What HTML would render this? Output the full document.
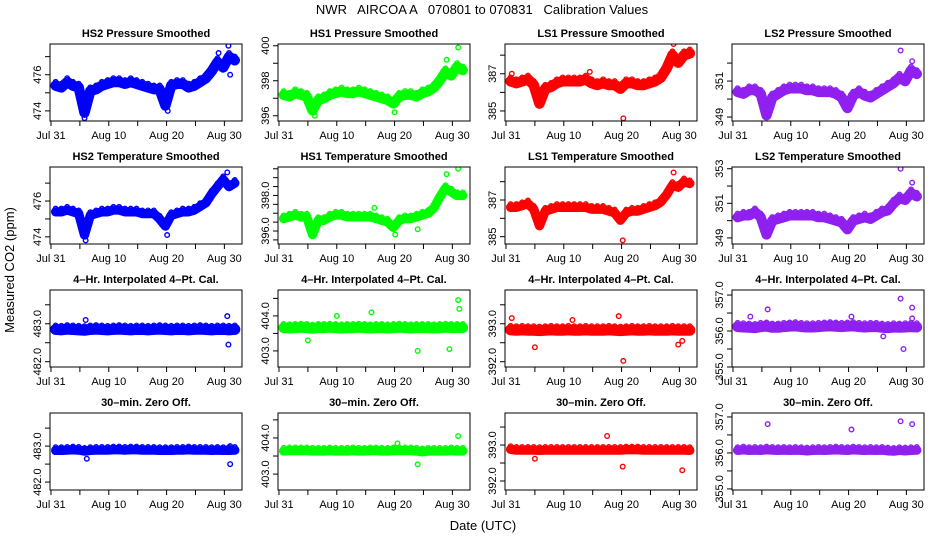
<!DOCTYPE html>
<html><head><meta charset="utf-8"><style>
html,body{margin:0;padding:0;background:#fff}
svg{display:block;font-family:"Liberation Sans",Arial,sans-serif}
</style></head><body>
<svg id="chart" width="936" height="540" viewBox="0 0 936 540" xmlns="http://www.w3.org/2000/svg">
<text x="482" y="14" font-size="13" text-anchor="middle" xml:space="preserve">NWR   AIRCOA A   070801 to 070831   Calibration Values</text>
<text transform="translate(14,270) rotate(-90)" font-size="13" text-anchor="middle">Measured CO2 (ppm)</text>
<text x="483" y="530" font-size="13" text-anchor="middle">Date (UTC)</text>
<g id="panels"></g>
</svg>
<script>
// ---- data ----
const xTickDays = [0,5,10,15,20,25,30];
const xTickLabels = ["Jul 31","","Aug 10","","Aug 20","","Aug 30"];
const titles = ["HS2 Pressure Smoothed","HS1 Pressure Smoothed","LS1 Pressure Smoothed","LS2 Pressure Smoothed",
"HS2 Temperature Smoothed","HS1 Temperature Smoothed","LS1 Temperature Smoothed","LS2 Temperature Smoothed",
"4\u2013Hr. Interpolated 4\u2013Pt. Cal.","4\u2013Hr. Interpolated 4\u2013Pt. Cal.","4\u2013Hr. Interpolated 4\u2013Pt. Cal.","4\u2013Hr. Interpolated 4\u2013Pt. Cal.",
"30\u2013min. Zero Off.","30\u2013min. Zero Off.","30\u2013min. Zero Off.","30\u2013min. Zero Off."];
const yRanges = [[473.44,477.7],[395.7,400.1],[384.46,388.6],[348.78,353.06],
[473.6,477.9],[395.27,399.6],[384.6,388.8],[348.65,353.1],
[481.86,483.89],[402.54,404.74],[391.86,393.89],[355.0,357.14],
[481.78,483.92],[402.56,404.69],[391.75,393.89],[354.97,357.11]];
const yTicks = [[474,475,476,477],[396,397,398,399,400],[385,386,387,388],[349,350,351,352],
[474,475,476,477],[395.5,396,396.5,397,397.5,398,398.5,399,399.5],[385,386,387,388],[349,350,351,352,353],
[482,482.5,483,483.5],[403,403.5,404,404.5],[392,392.5,393,393.5],[355,355.5,356,356.5,357],
[482,482.5,483,483.5],[403,403.5,404,404.5],[392,392.5,393,393.5],[355,355.5,356,356.5,357]];
const yLabels = [["474","476"],["396","398","400"],["385","387"],["349","351"],
["474","476"],["396.0","398.0"],["385","387"],["349","351","353"],
["482.0","483.0"],["403.0","404.0"],["392.0","393.0"],["355.0","356.0","357.0"],
["482.0","483.0"],["403.0","404.0"],["392.0","393.0"],["355.0","356.0","357.0"]];
const bandHalf = [0.15,0.15,0.15,0.15,0.12,0.12,0.12,0.15,0.08,0.08,0.08,0.08,0.06,0.06,0.06,0.06];
const s0 = [475.4,475.3,475.6,475.4,475.3,473.9,475.1,475.2,475.4,475.5,475.6,475.6,475.5,475.6,475.5,475.4,475.3,475.2,475.2,474.3,475.4,475.5,475.5,475.3,475.4,475.6,475.8,476.2,476.7,476.4,477.0,476.8];
const s1 = [397.2,397.1,397.3,397.2,397.1,396.3,396.9,397.0,397.2,397.3,397.4,397.3,397.3,397.4,397.3,397.2,397.1,397.0,396.9,396.7,397.1,397.2,397.2,397.1,397.3,397.4,397.6,398.0,398.5,398.3,398.8,398.6];
const s2 = [386.6,386.5,386.6,386.7,386.4,385.4,386.2,386.3,386.5,386.6,386.6,386.6,386.6,386.7,386.5,386.4,386.5,386.4,386.4,386.2,386.5,386.5,386.4,386.4,386.5,386.6,386.8,387.3,388.0,387.6,388.0,388.1];
const s3 = [350.4,350.3,350.5,350.5,350.3,349.1,350.1,350.3,350.5,350.6,350.6,350.6,350.5,350.5,350.4,350.4,350.4,350.3,350.1,349.5,350.2,350.4,350.2,350.1,350.3,350.5,350.7,350.9,351.2,351.0,351.6,351.4];
const s4 = [475.4,475.4,475.5,475.4,475.3,474.1,475.2,475.3,475.4,475.4,475.5,475.5,475.4,475.4,475.4,475.3,475.3,475.3,475.0,474.6,475.2,475.3,475.4,475.4,475.5,475.7,475.9,476.4,476.8,477.2,476.8,477.0];
const s5 = [396.7,396.8,396.9,396.8,396.8,395.8,396.6,396.6,396.8,396.9,396.9,396.8,396.8,396.8,396.8,396.8,396.7,396.6,396.5,396.2,396.6,396.7,396.7,396.8,396.9,397.0,397.3,397.9,398.4,398.2,398.0,398.0];
const s6 = [386.6,386.6,386.7,386.8,386.5,385.6,386.4,386.5,386.6,386.6,386.6,386.6,386.6,386.6,386.5,386.5,386.5,386.4,386.3,385.9,386.3,386.4,386.4,386.5,386.6,386.7,386.9,387.3,387.8,387.7,388.0,387.9];
const s7 = [350.2,350.3,350.3,350.5,350.2,349.2,350.0,350.1,350.2,350.3,350.3,350.3,350.3,350.3,350.2,350.2,350.1,350.0,349.9,349.5,350.0,350.1,350.2,350.1,350.3,350.5,350.6,351.0,351.3,351.2,351.6,351.4];
const s8 = [482.85,482.84,482.86,482.85,482.84,482.83,482.85,482.86,482.85,482.84,482.85,482.86,482.85,482.84,482.85,482.85,482.84,482.85,482.86,482.85,482.84,482.85,482.85,482.84,482.85,482.86,482.85,482.84,482.85,482.85,482.84,482.85];
const s9 = [403.66,403.65,403.66,403.67,403.66,403.64,403.66,403.66,403.67,403.66,403.65,403.66,403.66,403.67,403.66,403.65,403.66,403.66,403.65,403.66,403.67,403.66,403.65,403.66,403.66,403.66,403.65,403.66,403.67,403.66,403.66,403.66];
const s10 = [392.84,392.83,392.84,392.83,392.83,392.82,392.83,392.84,392.83,392.83,392.84,392.83,392.83,392.84,392.83,392.83,392.83,392.84,392.83,392.82,392.83,392.84,392.83,392.83,392.84,392.83,392.83,392.83,392.84,392.83,392.83,392.83];
const s11 = [356.12,356.11,356.10,356.09,356.12,356.13,356.10,356.10,356.12,356.13,356.14,356.12,356.11,356.11,356.12,356.13,356.14,356.13,356.12,356.13,356.14,356.12,356.11,356.12,356.12,356.10,356.09,356.11,356.10,356.11,356.12,356.11];
const s12 = [482.88,482.88,482.89,482.90,482.89,482.86,482.88,482.89,482.89,482.89,482.90,482.90,482.89,482.90,482.90,482.89,482.89,482.89,482.88,482.88,482.88,482.89,482.89,482.90,482.89,482.89,482.89,482.88,482.89,482.88,482.88,482.89];
const s13 = [403.64,403.65,403.65,403.65,403.65,403.64,403.64,403.64,403.65,403.64,403.64,403.64,403.65,403.64,403.64,403.65,403.65,403.64,403.64,403.65,403.65,403.65,403.65,403.64,403.62,403.64,403.64,403.64,403.64,403.65,403.64,403.64];
const s14 = [392.88,392.86,392.86,392.86,392.86,392.85,392.86,392.86,392.86,392.86,392.86,392.86,392.86,392.86,392.86,392.86,392.86,392.86,392.86,392.86,392.87,392.87,392.87,392.86,392.86,392.86,392.86,392.86,392.86,392.86,392.86,392.85];
const s15 = [356.07,356.09,356.07,356.08,356.07,356.09,356.08,356.07,356.08,356.07,356.08,356.07,356.06,356.07,356.08,356.07,356.08,356.09,356.08,356.07,356.09,356.08,356.07,356.08,356.07,356.08,356.06,356.05,356.07,356.06,356.07,356.08];
const seriesList = [s0,s1,s2,s3,s4,s5,s6,s7,s8,s9,s10,s11,s12,s13,s14,s15];
const outliers = [
[[5.8,473.6],[20.2,474.0],[29,477.2],[30.7,477.6],[31,476.0]],
[[6.2,396.0],[29,399.2],[31,399.9],[20,396.2]],
[[20.3,384.6],[1,387.0],[29,388.6],[14.5,387.1]],
[[29,352.7],[31,352.1]],
[[6,473.8],[20.1,474.1],[30.5,477.6]],
[[29,399.2],[31,399.5],[24,396.1],[20.1,395.8],[16.5,397.3]],
[[20.2,384.8],[29,388.5],[6,385.8]],
[[29,353.0],[31,352.2]],
[[30.7,482.45],[30.5,483.2],[6,483.1]],
[[24,403.0],[31,404.45],[31.2,404.2],[29.5,403.05],[10,404.0],[16,404.1],[5,403.3]],
[[5,392.38],[20.3,392.02],[19.5,393.2],[1,393.15],[29.8,392.45],[30.5,392.55],[11.5,393.1]],
[[29,356.9],[31,356.65],[31,356.35],[6,356.6],[20.5,356.4],[26,355.85],[29.5,355.5],[3,356.4]],
[[31,482.5],[6.2,482.65],[31,483.0]],
[[24,403.27],[31,404.05],[20.5,403.85]],
[[5,392.62],[20.2,392.4],[30.5,392.3],[17.5,393.25]],
[[29,356.88],[31,356.8],[6,356.8],[20.5,356.65]]];
const colors = ["#0000ff","#00ff00","#ff0000","#9020f0"];

// ---- layout ----
const colLeft = [50,278,505,732];
const rowTop = [44,167,290,413];
const W = 192, H = 77;
const dayMin = -0.17, dayMax = 33.05, firstDay = 0.8;
const NS = "http://www.w3.org/2000/svg";
const root = document.getElementById("panels");
function mk(tag, attrs, parent){const e=document.createElementNS(NS,tag);for(const k in attrs)e.setAttribute(k,attrs[k]);parent.appendChild(e);return e;}

for(let p=0;p<16;p++){
  const r=Math.floor(p/4), c=p%4, L=colLeft[c], T=rowTop[r];
  const [y0,y1]=yRanges[p];
  const xs=d=>L+(d-dayMin)/(dayMax-dayMin)*W;
  const ys=v=>T+H-(v-y0)/(y1-y0)*H;
  const g=mk("g",{},root);
  
  
  const t=mk("text",{x:L+W/2,y:T-7,"font-size":"11","font-weight":"bold","text-anchor":"middle"},g);
  t.textContent=titles[p];
  
  
  // data band
  const ser=seriesList[p];
  const pts=ser.map((v,i)=>xs(firstDay+i).toFixed(1)+","+ys(v).toFixed(1)).join(" ");
  const pxu=H/(y1-y0);
  const clip=mk("clipPath",{id:"cp"+p},g);
  mk("rect",{x:L,y:T,width:W,height:H},clip);
  const dg=mk("g",{"clip-path":"url(#cp"+p+")"},g);
  const band=mk("polyline",{points:pts,fill:"none",stroke:colors[c],"stroke-width":(bandHalf[p]*2*pxu+5).toFixed(1),"stroke-linejoin":"round","stroke-linecap":"round"},dg);
  
  
  ser.forEach((v,i)=>{
    const pt=mk("circle",{cx:xs(firstDay+i),cy:ys(v)-bandHalf[p]*pxu-1,r:2.3,fill:"none",stroke:colors[c],"stroke-width":1.3},dg);
    
    
  });
  outliers[p].forEach(o=>{
    const oc=mk("circle",{cx:xs(o[0]),cy:ys(o[1]),r:2.3,fill:"none",stroke:colors[c],"stroke-width":1.4},dg);
    
    
  });
  const box=mk("rect",{x:L,y:T,width:W,height:H,fill:"none",stroke:"#000","stroke-width":1},g);
  
  
  // x axis
  xTickDays.forEach((d,i)=>{
    const x=xs(d);
    mk("line",{x1:x,x2:x,y1:T+H,y2:T+H+5,stroke:"#000"},g);
    if(xTickLabels[i]){
      const tl=mk("text",{x:x,y:T+H+18,"font-size":"11","text-anchor":"middle"},g);
      tl.textContent=xTickLabels[i];
      
      
    }
  });
  mk("line",{x1:xs(0),x2:xs(30),y1:T+H,y2:T+H,stroke:"#000"},g);
  // y axis
  const tk=yTicks[p];
  tk.forEach(v=>mk("line",{x1:L-5,x2:L,y1:ys(v),y2:ys(v),stroke:"#000"},g));
  yLabels[p].forEach(s=>{
    const v=parseFloat(s);
    const yl=mk("text",{transform:"translate("+(L-9)+","+ys(v)+") rotate(-90)","font-size":"11","text-anchor":"middle"},g);
    yl.textContent=s;
    
    
  });
}
</script>
</body></html>
